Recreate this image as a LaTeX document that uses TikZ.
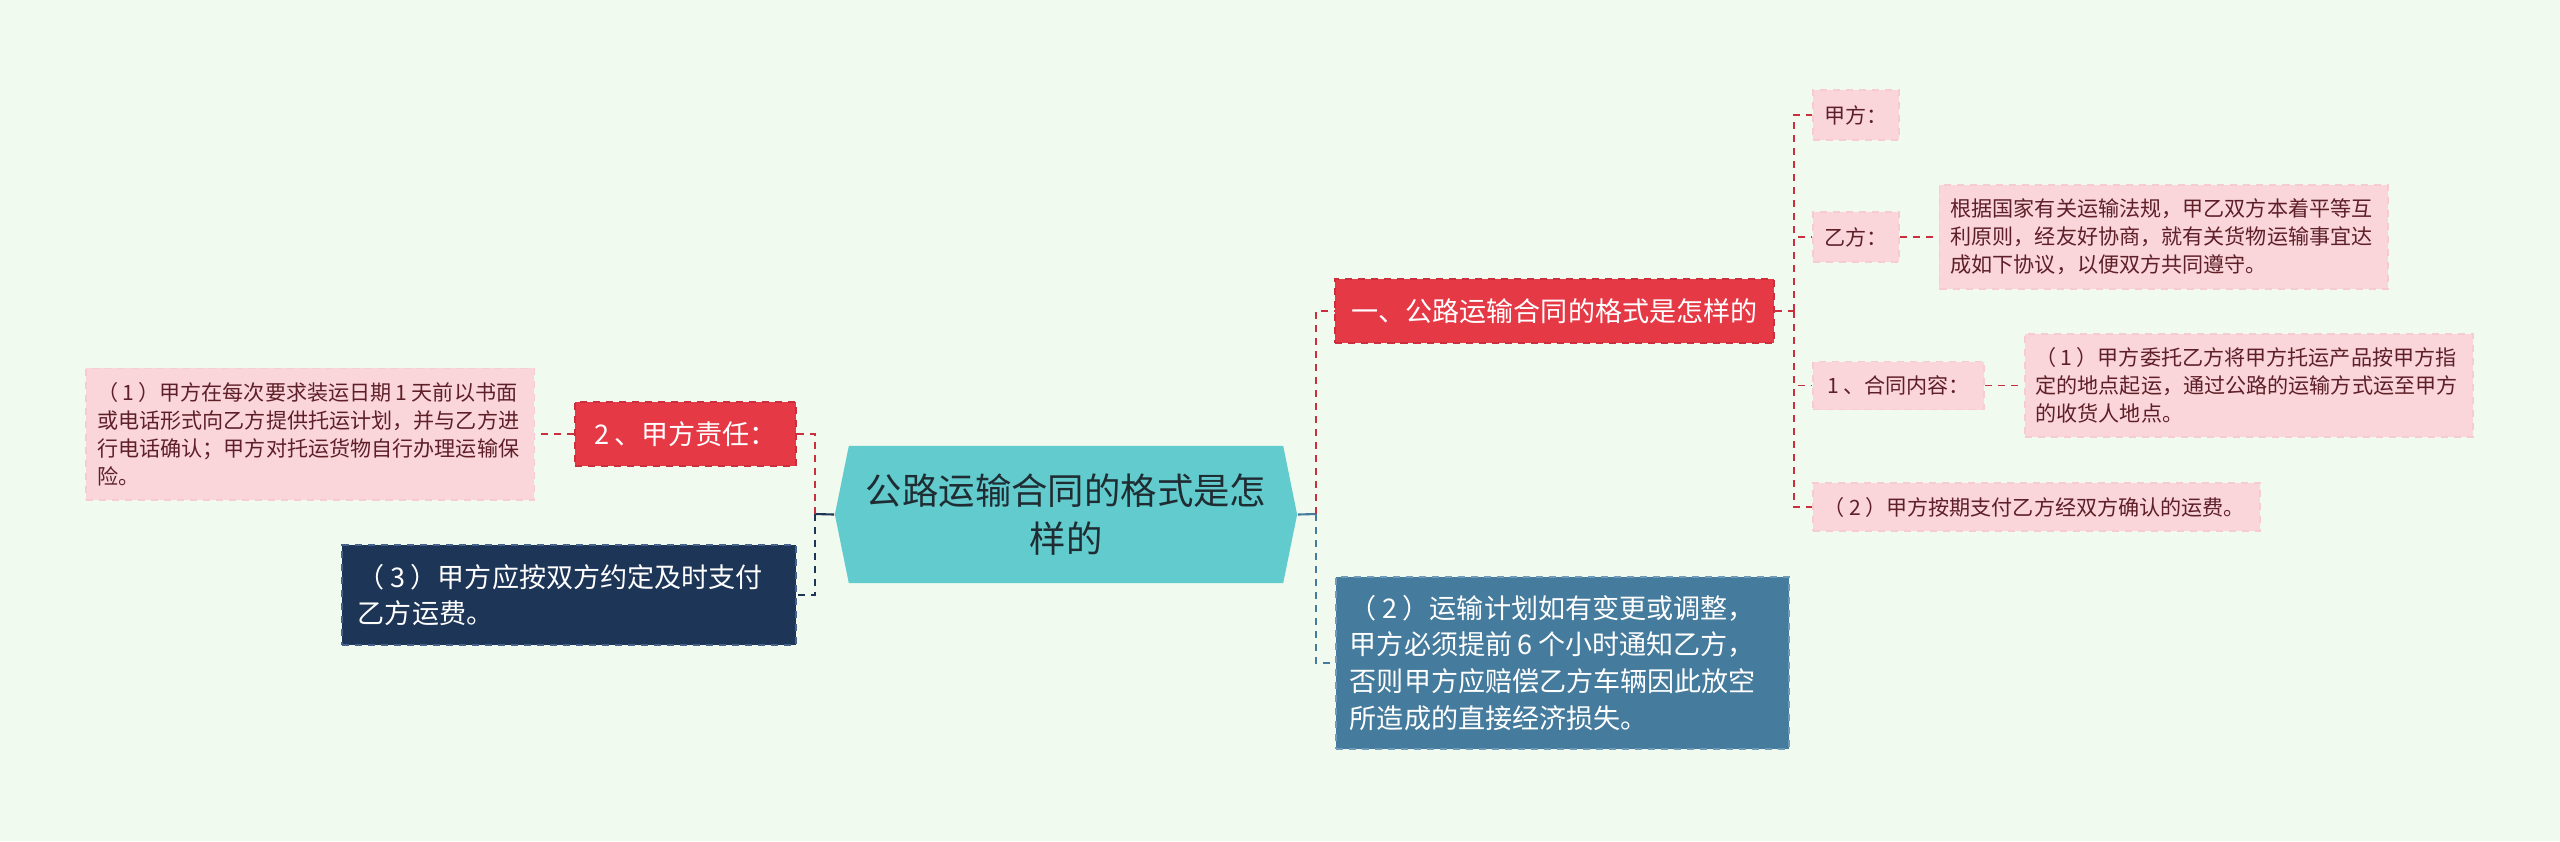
\documentclass[tikz,border=0pt]{standalone}
\usepackage{fontspec}
\setmainfont{Noto Sans CJK SC}
\usepackage{tikz}
\usetikzlibrary{shapes.symbols,positioning}
\usepackage{xcolor}
\definecolor{bgmint}{HTML}{F1FAEE}
\definecolor{redfill}{HTML}{E63946}
\definecolor{redline}{HTML}{C92F3D}
\definecolor{pinkfill}{HTML}{FAD6DA}
\definecolor{pinkedge}{HTML}{F6CBD1}
\definecolor{pinktext}{HTML}{5E1F28}
\definecolor{navyfill}{HTML}{1D3557}
\definecolor{navyedge}{HTML}{46628A}
\definecolor{steelfill}{HTML}{457B9D}
\definecolor{steeledge}{HTML}{6E9BBA}
\definecolor{tealfill}{HTML}{62CBCE}
\definecolor{roottext}{HTML}{1F2D33}
\newcommand{\gap}{\hspace{0.2em}}

\begin{document}
\begin{tikzpicture}[x=0.01cm, y=-0.01cm,
    dashline/.style={line width=0.55pt, dash pattern=on 2pt off 1.7pt},
    bigfont/.style={font=\fontsize{7.7pt}{10.5pt}\selectfont},
    smallfont/.style={font=\fontsize{6pt}{8pt}\selectfont},
    rootnode/.style={shape=signal, signal to=west and east, signal pointer angle=157,
        fill=tealfill, text=roottext, align=center, inner xsep=0.17cm,
        font=\fontsize{10.35pt}{13.7pt}\selectfont},
    redbox/.style={draw=redline, fill=redfill, dashline, text=white, bigfont,
        minimum height=0.64cm, inner xsep=0.16cm},
    navybox/.style={draw=navyedge, fill=navyfill, dashline, text=white, bigfont,
        align=left, inner xsep=0.16cm},
    steelbox/.style={draw=steeledge, fill=steelfill, dashline, text=white, bigfont,
        align=left, inner xsep=0.14cm},
    pinkbox/.style={draw=pinkedge, fill=pinkfill, dashline, text=pinktext, smallfont,
        inner xsep=0.11cm},
    node distance=0.385cm
]
    % 背景
    \fill[bgmint] (0,0) rectangle (2560,841);

    % 中心主题
    \node[rootnode, minimum width=4.34cm, minimum height=1.37cm] (root) at (1066,514.5)
        {公路运输合同的格式是怎\\样的};

    % 左侧分支
    \node[redbox, minimum width=2.21cm] (duty) at (685.5,434) {2\gap{}、甲方责任：};
    \node[pinkbox, left=of duty, text width=4.26cm, align=left, minimum height=1.31cm] (plan)
        {（\gap{}1\gap{}）甲方在每次要求装运日期\gap{}1\gap{}天前以书面\\
         或电话形式向乙方提供托运计划，并与乙方进\\
         行电话确认；甲方对托运货物自行办理运输保\\
         险。};
    \node[navybox, text width=4.22cm, minimum height=1cm] (fee) at (569,595)
        {（\gap{}3\gap{}）甲方应按双方约定及时支付\\乙方运费。};

    % 右侧分支
    \node[redbox, minimum width=4.37cm] (fmt) at (1554.5,311) {一、公路运输合同的格式是怎样的};
    \node[steelbox, text width=4.25cm, minimum height=1.72cm] (change) at (1562.5,663)
        {（\gap{}2\gap{}）运输计划如有变更或调整，\\
         甲方必须提前\gap{}6\gap{}个小时通知乙方，\\
         否则甲方应赔偿乙方车辆因此放空\\
         所造成的直接经济损失。};

    \node[pinkbox, minimum width=0.86cm, minimum height=0.5cm, anchor=west] (jia) at (1812,115) {甲方：};
    \node[pinkbox, minimum width=0.86cm, minimum height=0.5cm, anchor=west] (yi) at (1812,237) {乙方：};
    \node[pinkbox, right=of yi, text width=4.26cm, align=left, minimum height=1.04cm] (yitext)
        {根据国家有关运输法规，甲乙双方本着平等互\\
         利原则，经友好协商，就有关货物运输事宜达\\
         成如下协议，以便双方共同遵守。};
    \node[pinkbox, minimum width=1.71cm, minimum height=0.48cm, anchor=west] (content) at (1812,385.5) {1\gap{}、合同内容：};
    \node[pinkbox, right=of content, text width=4.26cm, align=left, minimum height=1.03cm] (entrust)
        {（\gap{}1\gap{}）甲方委托乙方将甲方托运产品按甲方指\\
         定的地点起运，通过公路的运输方式运至甲方\\
         的收货人地点。};
    \node[pinkbox, text width=4.25cm, align=left, minimum height=0.48cm, anchor=west] (pay) at (1812,507)
        {（\gap{}2\gap{}）甲方按期支付乙方经双方确认的运费。};

    % 连线
    \coordinate (jl) at (815,514);
    \coordinate (jr) at (1316,514);
    \coordinate (jt) at (1794,311);
    \draw[navyfill, line width=0.6pt] (root.west) -- (jl);
    \draw[redline, dashline] (jl) |- (duty.east);
    \draw[navyfill, dashline] (jl) |- (fee.east);
    \draw[redline, dashline] (duty.west) -- (plan.east);

    \draw[steelfill, line width=0.6pt] (root.east) -- (jr);
    \draw[redline, dashline] (jr) |- (fmt.west);
    \draw[steelfill, dashline] (jr) |- (change.west);
    \draw[redline, dashline] (fmt.east) -- (jt);
    \foreach \n in {jia,yi,content,pay}
        \draw[redline, dashline] (jt) |- (\n.west);
    \draw[redline, dashline] (yi.east) -- (yitext.west);
    \draw[redline, dashline] (content.east) -- (entrust.west);
\end{tikzpicture}
\end{document}
